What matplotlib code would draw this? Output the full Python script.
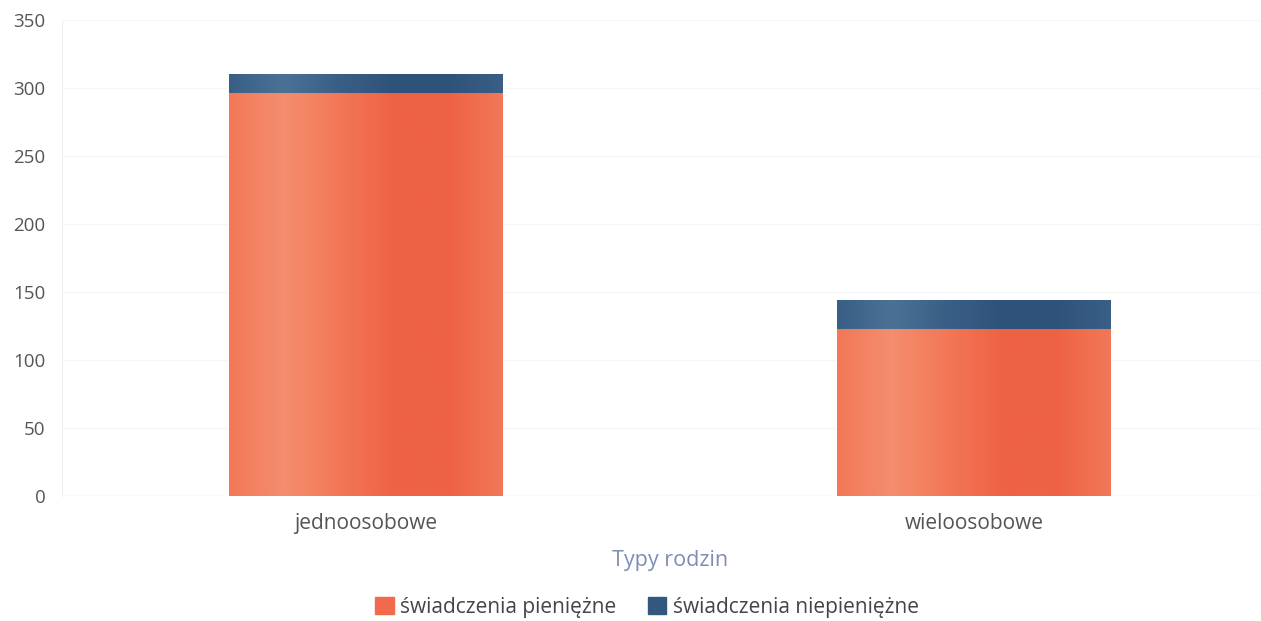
import numpy as np
import matplotlib.pyplot as plt
from matplotlib.colors import LinearSegmentedColormap
from matplotlib.patches import Patch

# Dane
kategorie = ['jednoosobowe', 'wieloosobowe']
pieniezne = [296, 123]
niepieniezne = [14, 21]

kolor_pien = '#F06A4B'
kolor_niepien = '#33587F'

plt.rcParams['font.family'] = ['Open Sans', 'DejaVu Sans']

fig = plt.figure(figsize=(12.61, 6.21), dpi=100)
ax = fig.add_axes([62 / 1261, 1 - 496 / 621, 1216 / 1261, 476 / 621])

x = np.arange(len(kategorie))
szer = 0.45
b1 = ax.bar(x, pieniezne, szer, color=kolor_pien, zorder=2)
b2 = ax.bar(x, niepieniezne, szer, bottom=pieniezne, color=kolor_niepien, zorder=2)

# lekki gradient jak w oryginale
def gradient(bars, jasny, sredni, ciemny):
    cmap = LinearSegmentedColormap.from_list('g', [sredni, jasny, sredni, ciemny, ciemny, sredni])
    grad = np.linspace(0, 1, 256).reshape(1, -1)
    for b in bars:
        x0, y0 = b.get_x(), b.get_y()
        w, h = b.get_width(), b.get_height()
        im = ax.imshow(grad, cmap=cmap, aspect='auto', extent=[x0, x0 + w, y0, y0 + h], zorder=3)
        im.set_clip_path(b)

gradient(b1, '#F48E6E', '#F27857', '#EE6244')
gradient(b2, '#4B7195', '#3A5F86', '#2F527A')

ax.set_xlim(-0.5, 1.5)
ax.set_ylim(0, 350)
ax.set_yticks(range(0, 351, 50))
ax.set_xticks(x)
ax.set_xticklabels(kategorie)
ax.tick_params(axis='both', length=0, colors='#555555')
ax.tick_params(axis='y', pad=12, labelsize=13.5)
ax.tick_params(axis='x', pad=12, labelsize=15)
ax.grid(axis='y', color='#F6F6F6', linewidth=0.8, zorder=0)
for s in ['top', 'right', 'bottom']:
    ax.spines[s].set_visible(False)
ax.spines['left'].set_color('#EEEEEE')
ax.axhline(0, color='#AAAAAA', linewidth=0.8, linestyle=(0, (2, 1)), zorder=4)

ax.set_xlabel('Typy rodzin', fontsize=15.5, color='#7D8DB3', labelpad=12)

uchwyty = [Patch(color=kolor_pien), Patch(color=kolor_niepien)]
fig.legend(uchwyty, ['świadczenia pieniężne', 'świadczenia niepieniężne'],
           loc='center', bbox_to_anchor=(647 / 1261, 1 - 607 / 621), ncol=2,
           frameon=False, fontsize=15, handlelength=0.9, handleheight=0.9,
           handletextpad=0.3, columnspacing=1.5, labelcolor='#444444')

fig.savefig('out.png', dpi=100)
